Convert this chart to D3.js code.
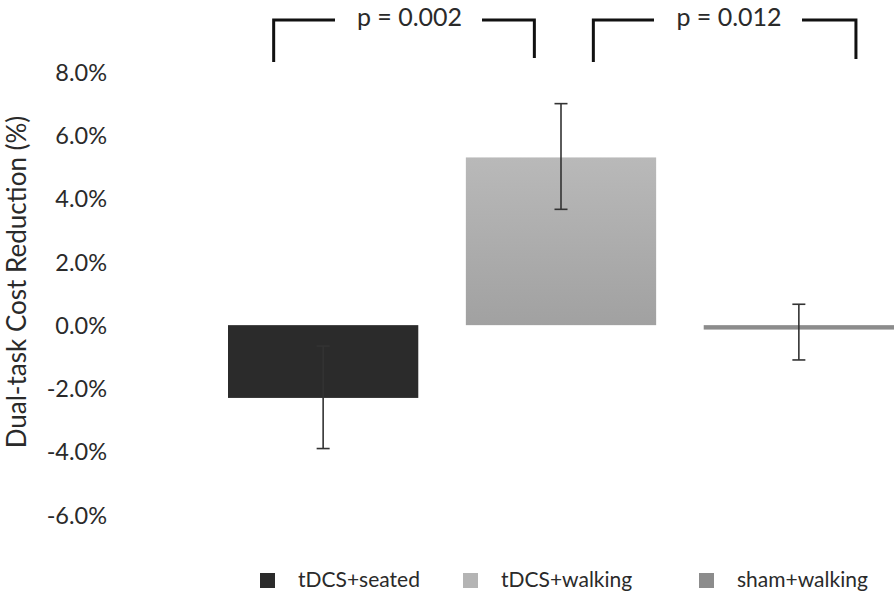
<!DOCTYPE html>
<html>
<head>
<meta charset="utf-8">
<script src="https://cdn.jsdelivr.net/npm/d3@7"></script>
<style>
  body { margin: 0; background: #fff; }
  svg text { font-family: Lato, "Open Sans", sans-serif; fill: #2a2a2a; }
</style>
</head>
<body>
<svg id="chart" width="896" height="594"></svg>
<script>
// data
let groups = ["tDCS+seated", "tDCS+walking", "sham+walking"];
let means = [-2.3, 5.3, -0.14];
let errLow = [-3.9, 3.66, -1.1];
let errHigh = [-0.66, 7.0, 0.66];
let yTicks = [-6, -4, -2, 0, 2, 4, 6, 8];
let comparisons = [
  {from: "tDCS+seated", to: "tDCS+walking", label: "p = 0.002"},
  {from: "tDCS+walking", to: "sham+walking", label: "p = 0.012"}
];

let colors = ["#2b2b2b", "url(#walkGrad)", "#8c8c8c"];
let legendColors = ["#2b2b2b", "#b4b4b4", "#8c8c8c"];

let svg = d3.select("#chart");

let defs = svg.append("defs");
let grad = defs.append("linearGradient")
    .attr("id", "walkGrad")
    .attr("x1", 0).attr("y1", 0).attr("x2", 0).attr("y2", 1);
grad.append("stop").attr("offset", "0%").attr("stop-color", "#b9b9b9");
grad.append("stop").attr("offset", "100%").attr("stop-color", "#a1a1a1");

// scales

let y = d3.scaleLinear()
    .domain([-6, 8])
    .range([515, 72]);

let x = d3.scaleBand()
    .domain(groups)
    .range([228, 894])
    .paddingInner(0.2)
    .paddingOuter(0);

// y axis (labels only)
let yAxis = svg.append("g")
    .attr("transform", "translate(107,0)")
    .call(d3.axisLeft(y)
      .tickValues(yTicks)
      .tickSize(0)
      .tickPadding(0)
      .tickFormat(d => d.toFixed(1) + "%"));

yAxis.select(".domain").remove();
yAxis.selectAll("text")
    .style("font-family", "Lato, 'Open Sans', sans-serif")
    .style("font-size", "23.5px")
    .attr("fill", "#2a2a2a")
    .attr("dy", "0.35em");

svg.append("text")
    .attr("transform", "translate(26,282) rotate(-90)")
    .attr("text-anchor", "middle")
    .style("font-size", "26px")
    .text("Dual-task Cost Reduction (%)");

// bars
svg.append("g")
  .selectAll("rect")
  .data(groups)
  .join("rect")
    .attr("x", d => x(d))
    .attr("width", x.bandwidth())
    .attr("y", (d, i) => y(Math.max(0, means[i])))
    .attr("height", (d, i) => Math.abs(y(means[i]) - y(0)))
    .attr("fill", (d, i) => colors[i]);

// error bars
let capW = 13;
let errs = svg.append("g")
    .attr("stroke", "#333")
    .attr("stroke-width", 1.6);

groups.forEach((g, i) => {
  let cx = x(g) + x.bandwidth() / 2;
  errs.append("line")
      .attr("x1", cx).attr("x2", cx)
      .attr("y1", y(errHigh[i])).attr("y2", y(errLow[i]));
  errs.append("line")
      .attr("x1", cx - capW / 2).attr("x2", cx + capW / 2)
      .attr("y1", y(errHigh[i])).attr("y2", y(errHigh[i]));
  errs.append("line")
      .attr("x1", cx - capW / 2).attr("x2", cx + capW / 2)
      .attr("y1", y(errLow[i])).attr("y2", y(errLow[i]));
});

// significance brackets
let bw = x.bandwidth();
let bracketLayout = [
  {l: 0.24, r: 0.36, top: 20, lDrop: 62, rDrop: 58, gapL: 335, gapR: 482},
  {l: 0.67, r: 0.8, top: 20, lDrop: 62, rDrop: 59, gapL: 654, gapR: 802}
];

let brackets = svg.append("g")
    .attr("fill", "none")
    .attr("stroke", "#111")
    .attr("stroke-width", 3);

comparisons.forEach((c, i) => {
  let b = bracketLayout[i];
  let x1 = x(c.from) + bw * b.l;
  let x2 = x(c.to) + bw * b.r;

  brackets.append("path")
      .attr("d", `M${x1},${b.lDrop}V${b.top}H${b.gapL}`);
  brackets.append("path")
      .attr("d", `M${b.gapR},${b.top}H${x2}V${b.rDrop}`);

  svg.append("text")
      .attr("x", (b.gapL + b.gapR) / 2 + 1)
      .attr("y", 17)
      .attr("dy", "0.35em")
      .attr("text-anchor", "middle")
      .style("font-size", "25px")
      .text(c.label);
});

// legend
let legendX = [260, 463, 699];

let legend = svg.append("g")
  .selectAll("g")
  .data(groups)
  .join("g")
    .attr("transform", (d, i) => `translate(${legendX[i]},573)`);

legend.append("rect")
    .attr("width", 15)
    .attr("height", 15)
    .attr("fill", (d, i) => legendColors[i]);

legend.append("text")
    .attr("x", 38)
    .attr("y", 7)
    .attr("dy", "0.35em")
    .style("font-size", "21px")
    .text(d => d);
</script>
</body>
</html>
